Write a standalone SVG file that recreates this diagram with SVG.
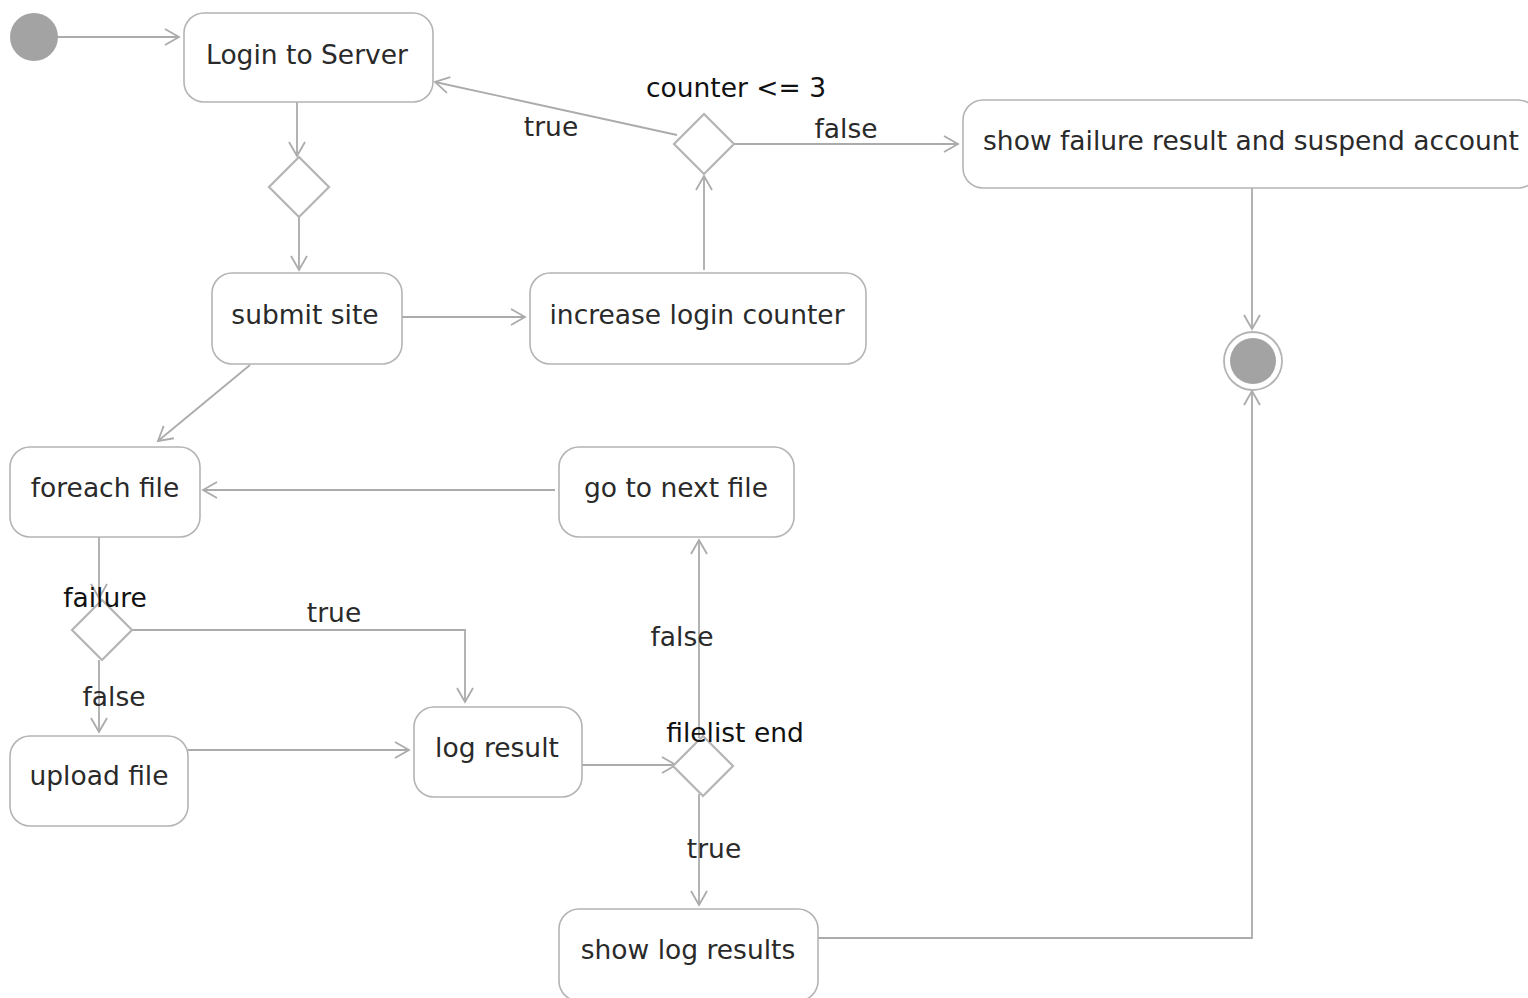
<svg xmlns="http://www.w3.org/2000/svg" width="1528" height="998" viewBox="0 0 1528 998">
<style>
.box{fill:#fff;stroke:#b4b4b4;stroke-width:1.6}
.dia{fill:#fff;stroke:#b4b4b4;stroke-width:2.2}
.t{font-family:"DejaVu Sans",sans-serif;font-size:26.5px;fill:#2a2a2a;text-anchor:middle}
.g{font-family:"DejaVu Sans",sans-serif;font-size:26.5px;fill:#111;text-anchor:middle}
.ln{fill:none;stroke:#ababab;stroke-width:1.8}
</style>
<defs>
<marker id="ar" markerUnits="userSpaceOnUse" markerWidth="20" markerHeight="20" refX="15" refY="9" orient="auto">
<path d="M1,1 L15,9 L1,17" fill="none" stroke="#ababab" stroke-width="1.8"/>
</marker>
</defs>
<rect width="1528" height="998" fill="#fff"/>
<g id="connectors">
<path class="ln" marker-end="url(#ar)" d="M58,37 L179,37"/>
<path class="ln" marker-end="url(#ar)" d="M297,102 L297,156"/>
<path class="ln" marker-end="url(#ar)" d="M299,217 L299,270"/>
<path class="ln" marker-end="url(#ar)" d="M402,317 L525,317"/>
<path class="ln" marker-end="url(#ar)" d="M704,270 L704,176"/>
<path class="ln" marker-end="url(#ar)" d="M677,135 L435,82"/>
<path class="ln" marker-end="url(#ar)" d="M734,144 L958,144"/>
<path class="ln" marker-end="url(#ar)" d="M1252,188 L1252,329"/>
<path class="ln" marker-end="url(#ar)" d="M818,938 L1252,938 L1252,391"/>
<path class="ln" marker-end="url(#ar)" d="M250,365 L158,441"/>
<path class="ln" marker-end="url(#ar)" d="M555,490 L203,490"/>
<path class="ln" marker-end="url(#ar)" d="M99,537 L99,598"/>
<path class="ln" marker-end="url(#ar)" d="M132,630 L465,630 L465,702"/>
<path class="ln" marker-end="url(#ar)" d="M99,660 L99,732"/>
<path class="ln" marker-end="url(#ar)" d="M188,750 L409,750"/>
<path class="ln" marker-end="url(#ar)" d="M582,765 L676,765"/>
<path class="ln" marker-end="url(#ar)" d="M699,738 L699,540"/>
<path class="ln" marker-end="url(#ar)" d="M699,794 L699,905"/>
<text class="t" x="551" y="136">true</text>
<text class="t" x="846" y="138">false</text>
<text class="t" x="334" y="622">true</text>
<text class="t" x="114" y="706">false</text>
<text class="t" x="682" y="646">false</text>
<text class="t" x="714" y="858">true</text>
</g>
<g id="start"><circle cx="34" cy="37" r="24" fill="#a3a3a3"/></g>
<g id="login"><rect class="box" x="184" y="13" width="249" height="89" rx="20"/><text class="t" x="307" y="64">Login to Server</text></g>
<g id="d1"><path class="dia" d="M299,157 L329,187 L299,217 L269,187 Z"/></g>
<g id="submit"><rect class="box" x="212" y="273" width="190" height="91" rx="20"/><text class="t" x="305" y="324">submit site</text></g>
<g id="increase"><rect class="box" x="530" y="273" width="336" height="91" rx="20"/><text class="t" x="697" y="324">increase login counter</text></g>
<g id="d2"><path class="dia" d="M704,114 L734,144 L704,174 L674,144 Z"/><text class="g" x="736" y="97">counter &lt;= 3</text></g>
<g id="failure"><rect class="box" x="963" y="100" width="575" height="88" rx="20"/><text class="t" x="1251" y="150">show failure result and suspend account</text></g>
<g id="end"><circle cx="1253" cy="361" r="29" fill="#fff" stroke="#b4b4b4" stroke-width="1.8"/><circle cx="1253" cy="361" r="23" fill="#a3a3a3"/></g>
<g id="foreach"><rect class="box" x="10" y="447" width="190" height="90" rx="20"/><text class="t" x="105" y="497">foreach file</text></g>
<g id="next"><rect class="box" x="559" y="447" width="235" height="90" rx="20"/><text class="t" x="676" y="497">go to next file</text></g>
<g id="d3"><path class="dia" d="M102,600 L132,630 L102,660 L72,630 Z"/><text class="g" x="105" y="607">failure</text></g>
<g id="upload"><rect class="box" x="10" y="736" width="178" height="90" rx="20"/><text class="t" x="99" y="785">upload file</text></g>
<g id="log"><rect class="box" x="414" y="707" width="168" height="90" rx="20"/><text class="t" x="497" y="757">log result</text></g>
<g id="d4"><path class="dia" d="M703,736 L733,766 L703,796 L673,766 Z"/><text class="g" x="735" y="742">filelist end</text></g>
<g id="show"><rect class="box" x="559" y="909" width="259" height="92" rx="20"/><text class="t" x="688" y="959">show log results</text></g>
</svg>
